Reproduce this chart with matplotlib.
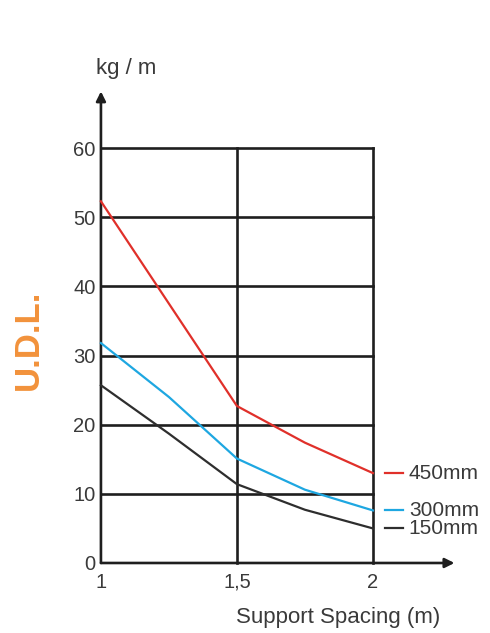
import matplotlib
matplotlib.use("Agg")
import matplotlib.pyplot as plt

plt.rcParams['font.family'] = ['Liberation Sans', 'DejaVu Sans']

# support spacing (m)
spacing = [1, 1.25, 1.5, 1.75, 2]
# uniformly distributed load (kg/m) per tray width
load_450 = [52.3, 37.5, 22.7, 17.4, 13.0]
load_300 = [31.8, 24.0, 15.1, 10.6, 7.6]
load_150 = [25.7, 18.7, 11.4, 7.7, 5.0]

series_names = ["450mm", "300mm", "150mm"]
series_colors = ["#e0302a", "#1ea7e1", "#2e2e2e"]

x_ticks = [1, 1.5, 2]
x_ticklabels = ["1", "1,5", "2"]
y_ticks = [0, 10, 20, 30, 40, 50, 60]

txt = "#3a3a3a"

fig = plt.figure(figsize=(4.9, 6.33), dpi=100)
ax = fig.add_axes([0.206, 0.1106, 0.555, 0.6555])
ax.set_xlim(1, 2)
ax.set_ylim(0, 60)

# grid
for y in y_ticks[1:]:
    ax.axhline(y, color="#1e1e1e", lw=1.9, zorder=1, clip_on=False)
for x in x_ticks[1:]:
    ax.axvline(x, color="#1e1e1e", lw=1.9, zorder=1, clip_on=False)

for s in ax.spines.values():
    s.set_visible(False)

# axes with arrows
ax.annotate("", xy=(1, 68.2), xytext=(1, 0), xycoords="data",
            arrowprops=dict(arrowstyle="-|>", color="#1e1e1e", lw=1.9,
                            mutation_scale=14, shrinkA=0, shrinkB=0),
            annotation_clip=False)
ax.annotate("", xy=(2.3, 0), xytext=(1, 0), xycoords="data",
            arrowprops=dict(arrowstyle="-|>", color="#1e1e1e", lw=1.9,
                            mutation_scale=14, shrinkA=0, shrinkB=0),
            annotation_clip=False)

for vals, name, c in zip([load_450, load_300, load_150], series_names, series_colors):
    ax.plot(spacing, vals, color=c, lw=1.6, zorder=3, clip_on=False)
    ax.plot([2.045, 2.11], [vals[-1], vals[-1]], color=c, lw=1.6, clip_on=False)
    ax.text(2.132, vals[-1], name, color=txt, fontsize=15, va="center", ha="left")

ax.set_xticks(x_ticks)
ax.set_xticklabels(x_ticklabels)
ax.set_yticks(y_ticks)
ax.tick_params(length=0, labelsize=14.5, labelcolor=txt, pad=4)
ax.tick_params(axis="x", pad=7)

fig.text(0.196, 0.892, "kg / m", fontsize=16, color=txt, ha="left", va="center")
fig.text(0.69, 0.024, "Support Spacing (m)", fontsize=16, color=txt, ha="center", va="center")
fig.text(0.058, 0.463, "U.D.L.", fontsize=25, fontweight="bold", color="#f2923b",
         rotation=90, ha="center", va="center")

fig.savefig("out.png", dpi=100)
